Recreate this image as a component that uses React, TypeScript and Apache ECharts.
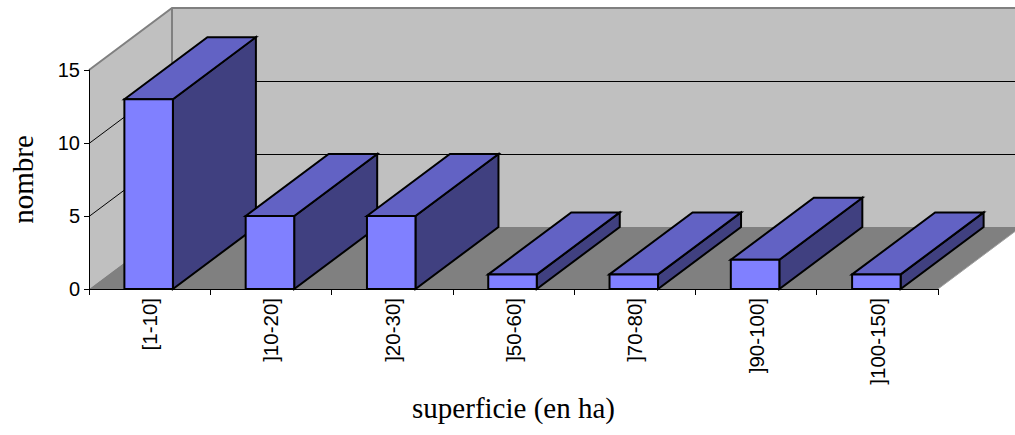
import React, { useEffect, useRef } from "react";
import * as echarts from "echarts";

// Number of farms per surface class (ha)
const categories = ["[1-10]", "]10-20]", "]20-30]", "]50-60]", "]70-80]", "]90-100]", "]100-150]"];
const counts = [13, 5, 5, 1, 1, 2, 1];
const yTicks = [0, 5, 10, 15];

// Oblique projection offset of the depth axis, in pixels
const DEPTH_X = 83;
const DEPTH_Y = 62;

const WALL = "#c0c0c0";
const FLOOR = "#808080";
const EDGE = "#808080";
const FRONT = "#8080ff";
const TOP = "#6262c4";
const SIDE = "#404080";

export default function App() {
  const ref = useRef<HTMLDivElement>(null);

  useEffect(() => {
    if (!ref.current) return;
    const chart = echarts.init(ref.current, undefined, { renderer: "svg" });
    const yMax = yTicks[yTicks.length - 1];

    const wallsRender = (params: any, api: any) => {
      const cs = params.coordSys;
      const x0 = cs.x;
      const x1 = cs.x + cs.width;
      const yt = cs.y;
      const yb = cs.y + cs.height;
      const children: any[] = [
        {
          type: "polygon",
          shape: { points: [[x0, yt], [x0 + DEPTH_X, yt - DEPTH_Y], [x0 + DEPTH_X, yb - DEPTH_Y], [x0, yb]] },
          style: { fill: WALL },
        },
        {
          type: "polygon",
          shape: {
            points: [
              [x0 + DEPTH_X, yt - DEPTH_Y],
              [x1 + DEPTH_X, yt - DEPTH_Y],
              [x1 + DEPTH_X, yb - DEPTH_Y],
              [x0 + DEPTH_X, yb - DEPTH_Y],
            ],
          },
          style: { fill: WALL },
        },
        {
          type: "polygon",
          shape: { points: [[x0, yb], [x0 + DEPTH_X, yb - DEPTH_Y], [x1 + DEPTH_X, yb - DEPTH_Y], [x1, yb]] },
          style: { fill: FLOOR },
        },
      ];
      // Gridlines run across the left wall and along the back wall
      yTicks
        .filter((v) => v > 0 && v < yMax)
        .forEach((v) => {
          const y = Math.round(api.coord([0, v])[1]) + 0.5;
          children.push({
            type: "polyline",
            shape: { points: [[x0, y], [x0 + DEPTH_X, y - DEPTH_Y], [x1 + DEPTH_X, y - DEPTH_Y]] },
            style: { stroke: "#000", lineWidth: 1, fill: "none" },
          });
        });
      children.push(
        {
          type: "polyline",
          shape: { points: [[x0, yt], [x0 + DEPTH_X, yt - DEPTH_Y], [x1 + DEPTH_X, yt - DEPTH_Y]] },
          style: { stroke: EDGE, lineWidth: 2, fill: "none" },
        },
        {
          type: "line",
          shape: { x1: x0 + DEPTH_X, y1: yt - DEPTH_Y, x2: x0 + DEPTH_X, y2: yb - DEPTH_Y },
          style: { stroke: EDGE, lineWidth: 2 },
        },
        {
          type: "line",
          shape: { x1: x1, y1: yb, x2: x1 + DEPTH_X, y2: yb - DEPTH_Y },
          style: { stroke: "#a0a0a0", lineWidth: 1 },
        }
      );
      return { type: "group", children };
    };

    const barsRender = (_params: any, api: any) => {
      const idx = api.value(0);
      const val = api.value(1);
      const [cx, yTop] = api.coord([idx, val]);
      const yBase = api.coord([idx, 0])[1];
      const band = api.size([1, 0])[0];
      const w = band * 0.4;
      const xl = cx - w / 2 - 1;
      const xr = xl + w;
      const stroke = { stroke: "#000", lineWidth: 2, lineJoin: "miter" };
      return {
        type: "group",
        children: [
          {
            type: "polygon",
            shape: { points: [[xr, yTop], [xr + DEPTH_X, yTop - DEPTH_Y], [xr + DEPTH_X, yBase - DEPTH_Y], [xr, yBase]] },
            style: { fill: SIDE, ...stroke },
          },
          {
            type: "polygon",
            shape: { points: [[xl, yTop], [xl + DEPTH_X, yTop - DEPTH_Y], [xr + DEPTH_X, yTop - DEPTH_Y], [xr, yTop]] },
            style: { fill: TOP, ...stroke },
          },
          {
            type: "rect",
            shape: { x: xl, y: yTop, width: w, height: yBase - yTop },
            style: { fill: FRONT, ...stroke },
          },
        ],
      };
    };

    chart.setOption({
      animation: false,
      grid: { left: 89, top: 70, right: 77, bottom: 146, containLabel: false },
      xAxis: {
        type: "category",
        data: categories,
        z: 10,
        boundaryGap: true,
        axisLine: { lineStyle: { color: "#000", width: 1 } },
        axisTick: { show: true, length: 6, interval: 0, lineStyle: { color: "#000" } },
        axisLabel: {
          interval: 0,
          rotate: 90,
          margin: 9,
          color: "#000",
          fontFamily: "Liberation Sans",
          fontSize: 20.5,
        },
        splitLine: { show: false },
        name: "superficie (en ha)",
        nameLocation: "middle",
        nameGap: 104,
        nameTextStyle: { color: "#000", fontFamily: "Liberation Serif", fontSize: 29 },
      },
      yAxis: {
        type: "value",
        min: 0,
        max: yMax,
        interval: 5,
        z: 10,
        axisLine: { show: true, lineStyle: { color: "#000", width: 1 } },
        axisTick: { show: true, length: 5, lineStyle: { color: "#000" } },
        axisLabel: { margin: 9, color: "#000", fontFamily: "Liberation Sans", fontSize: 20 },
        splitLine: { show: false },
        name: "nombre",
        nameLocation: "middle",
        nameRotate: 90,
        nameGap: 52,
        nameTextStyle: { color: "#000", fontFamily: "Liberation Serif", fontSize: 29 },
      },
      series: [
        {
          type: "custom",
          z: 1,
          silent: true,
          renderItem: wallsRender,
          data: [[0, 0]],
        },
        {
          type: "custom",
          z: 2,
          renderItem: barsRender,
          data: counts.map((v, i) => [i, v]),
        },
      ],
    });

    return () => chart.dispose();
  }, []);

  return (
    <div
      ref={ref}
      style={{ position: "absolute", left: 0, top: 0, width: 1015, height: 435, background: "#fff" }}
    />
  );
}
